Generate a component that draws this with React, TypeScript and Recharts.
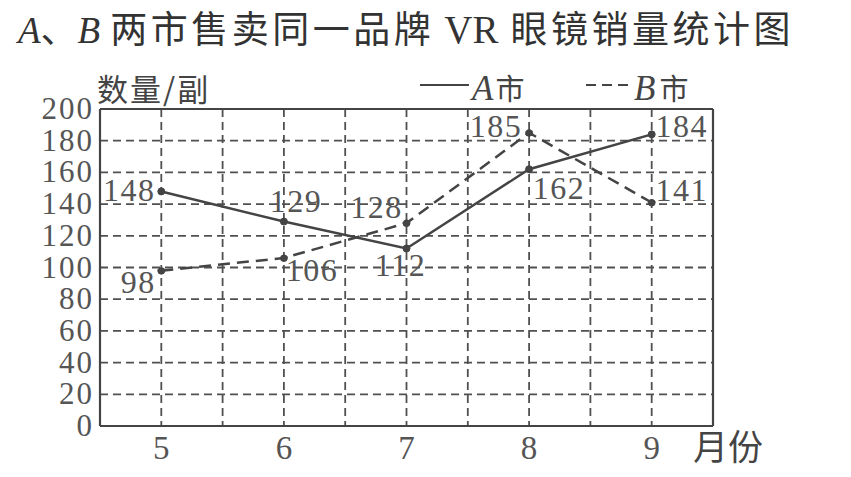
import React from "react";
import {
  LineChart,
  Line,
  XAxis,
  YAxis,
  CartesianGrid,
  ReferenceLine,
  LabelList,
} from "recharts";

const months = [5, 6, 7, 8, 9];
const cityA = [148, 129, 112, 162, 184];
const cityB = [98, 106, 128, 185, 141];
const yTicks = [0, 20, 40, 60, 80, 100, 120, 140, 160, 180, 200];
const gridX = [5, 5.5, 6, 6.5, 7, 7.5, 8, 8.5, 9];
const gridY = [20, 40, 60, 80, 100, 120, 140, 160, 180];

// label offsets (centre of text relative to the point)
const offsetsA = [
  [-32, -1],
  [12, -21],
  [-6, 17],
  [30, 19],
  [30, -8],
];
const offsetsB = [
  [-23, 11],
  [28, 12],
  [-30, -16],
  [-33, -7],
  [30, -13],
];

const data = months.map((m, i) => ({ month: m, a: cityA[i], b: cityB[i] }));

const INK = "#444";
const SERIF = "'Liberation Serif', 'Times New Roman', serif";
const CJK = "'Noto Sans CJK SC', sans-serif";

const makeLabel = (offsets: number[][]) => (props: any) => {
  const { x, y, value, index } = props;
  const [dx, dy] = offsets[index];
  return (
    <text
      x={x + dx}
      y={y + dy + 11}
      textAnchor="middle"
      fontFamily={SERIF}
      fontSize={32}
      letterSpacing={1.5}
      fill="#555"
    >
      {value}
    </text>
  );
};

const XTick = ({ x, y, payload }: any) => (
  <text x={x} y={y + 33} textAnchor="middle" fontFamily={SERIF} fontSize={33} fill="#555">
    {payload.value}
  </text>
);

const YTick = ({ x, y, payload }: any) => (
  <text x={x - 6} y={y + 10} textAnchor="end" fontFamily={SERIF} fontSize={31} letterSpacing={2} fill="#555">
    {payload.value}
  </text>
);

const dot = { r: 3.5, fill: INK, stroke: INK, strokeWidth: 1 };

export default function App() {
  return (
    <div style={{ position: "absolute", left: 0, top: 0, width: 851, height: 477, background: "#fff" }}>
      <LineChart
        width={851}
        height={477}
        data={data}
        margin={{ top: 109, right: 138, bottom: 0, left: 40 }}
      >
        <CartesianGrid
          stroke="#505050"
          strokeWidth={1.8}
          strokeDasharray="8 5"
          horizontalValues={gridY}
          verticalValues={gridX}
        />
        <XAxis
          type="number"
          dataKey="month"
          domain={[4.5, 9.5]}
          ticks={months}
          height={51}
          tickSize={0}
          tickMargin={0}
          tickLine={false}
          axisLine={{ stroke: INK, strokeWidth: 2.2 }}
          tick={<XTick />}
        />
        <YAxis
          domain={[0, 200]}
          ticks={yTicks}
          width={60}
          tickSize={0}
          tickMargin={0}
          tickLine={false}
          axisLine={{ stroke: INK, strokeWidth: 2.2 }}
          tick={<YTick />}
        />
        <ReferenceLine y={200} stroke={INK} strokeWidth={2.2} />
        <ReferenceLine x={9.5} stroke={INK} strokeWidth={2.2} />
        <Line
          dataKey="a"
          stroke={INK}
          strokeWidth={2.5}
          dot={dot}
          activeDot={false}
          isAnimationActive={false}
        >
          <LabelList dataKey="a" content={makeLabel(offsetsA)} />
        </Line>
        <Line
          dataKey="b"
          stroke={INK}
          strokeWidth={2.5}
          strokeDasharray="12 7"
          dot={dot}
          activeDot={false}
          isAnimationActive={false}
        >
          <LabelList dataKey="b" content={makeLabel(offsetsB)} />
        </Line>
      </LineChart>
      <svg width={851} height={477} style={{ position: "absolute", left: 0, top: 0, pointerEvents: "none" }}>
        <text x={18} y={43} fill="#333">
          <tspan fontFamily={SERIF} fontStyle="italic" fontSize={37}>A</tspan>
          <tspan fontFamily={CJK} fontSize={37}>、</tspan>
          <tspan fontFamily={SERIF} fontStyle="italic" fontSize={37}>B</tspan>
          <tspan fontFamily={CJK} fontSize={37} letterSpacing={3.5} dx={10}>两市售卖同一品牌</tspan>
          <tspan fontFamily={SERIF} fontSize={39} dx={10}>VR</tspan>
          <tspan fontFamily={CJK} fontSize={37} letterSpacing={3.5} dx={12}>眼镜销量统计图</tspan>
        </text>
        <text x={97} y={101} fontFamily={CJK} fontSize={31} letterSpacing={2} fill="#444">数量/副</text>
        <text x={693} y={460} fontFamily={CJK} fontSize={35} fill="#444">月份</text>
        <line x1={420} y1={85} x2={469} y2={85} stroke={INK} strokeWidth={2.2} />
        <text x={472} y={100} fill="#444">
          <tspan fontFamily={SERIF} fontStyle="italic" fontSize={35}>A</tspan>
          <tspan fontFamily={CJK} fontSize={29} dx={2}>市</tspan>
        </text>
        <line x1={586} y1={85} x2={630} y2={85} stroke={INK} strokeWidth={2.2} strokeDasharray="10 6" />
        <text x={634} y={100} fill="#444">
          <tspan fontFamily={SERIF} fontStyle="italic" fontSize={35}>B</tspan>
          <tspan fontFamily={CJK} fontSize={29} dx={4}>市</tspan>
        </text>
      </svg>
    </div>
  );
}
